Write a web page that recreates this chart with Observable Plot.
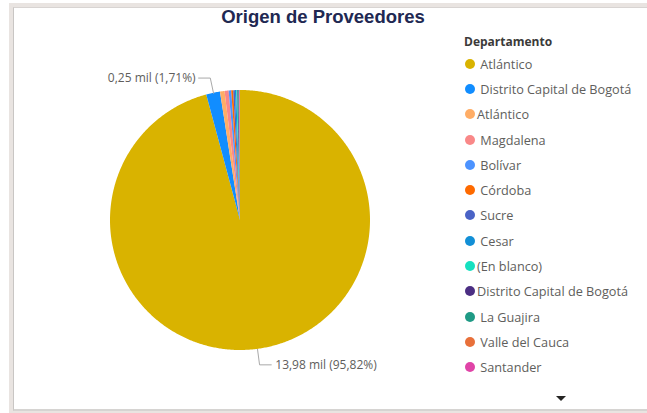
<!DOCTYPE html>
<html>
<head>
<meta charset="utf-8">
<script src="https://cdn.jsdelivr.net/npm/d3@7"></script>
<script src="https://cdn.jsdelivr.net/npm/@observablehq/plot@0.6"></script>
<style>
  html, body { margin: 0; padding: 0; background: #ffffff; overflow: hidden; }
  #wrap { position: relative; width: 647px; height: 413px; overflow: hidden; font-family: "Open Sans", "Noto Sans", sans-serif; }
  #outer { position: absolute; left: 9px; top: 3px; width: 660px; height: 410px; background: #e9e4e1; }
  #panel { position: absolute; left: 13px; top: 7px; width: 660px; height: 404px; background: #ffffff; border-left: 1px solid #c9c6c4; border-top: 1px solid #d8d4d2; border-bottom: 2px solid #d6d4d2; box-sizing: border-box; }
  #title { position: absolute; left: 13px; width: 620px; top: 6px; text-align: center; font-family: "Liberation Sans", Arial, sans-serif; font-weight: bold; font-size: 18.5px; color: #212852; }
  #chart { position: absolute; left: 0; top: 0; }
  #legend { position: absolute; left: 464px; top: 33px; }
  #legend .lt { font-weight: bold; font-size: 12px; color: #3b3a39; height: 18px; line-height: 18px; }
  #legend .it { display: flex; align-items: center; height: 25.3px; font-size: 12.7px; color: #605e5c; white-space: pre; }
  #legend .mk { width: 10px; height: 10px; border-radius: 50%; margin-left: 1px; margin-right: 2px; flex: none; }
  #arrow { position: absolute; left: 556px; top: 396px; width: 0; height: 0; border-left: 5px solid transparent; border-right: 5px solid transparent; border-top: 5px solid #252423; }
</style>
</head>
<body>
<div id="wrap">
  <div id="outer"></div>
  <div id="panel"></div>
  <div id="title">Origen de Proveedores</div>
  <div id="chart"></div>
  <div id="legend"></div>
  <div id="arrow"></div>
</div>
<script>
const legendTitle = "Departamento";
const categories = [" Atlántico", " Distrito Capital de Bogotá", "Atlántico", " Magdalena", " Bolívar", " Córdoba", " Sucre", " Cesar", "(En blanco)", "Distrito Capital de Bogotá", " La Guajira", " Valle del Cauca", " Santander"];
const values = [13980, 250, 83, 73, 47, 36, 29, 25, 20, 17, 12, 9, 9];
const colors = ["#d9b300", "#118dff", "#ffad66", "#f98888", "#4c93ff", "#fe6a00", "#4a63c6", "#128fd6", "#16e0c0", "#4b2e83", "#1f9a85", "#e8703a", "#e044a7"];

const total = d3.sum(values);
let cum = 0;
const slices = categories.map((c, i) => {
  const a0 = cum / total * 2 * Math.PI;
  cum += values[i];
  const a1 = cum / total * 2 * Math.PI;
  return {c, v: values[i], a0, a1, share: values[i] / total};
});

const arcPts = [];
for (const s of slices) {
  const n = Math.max(2, Math.ceil((s.a1 - s.a0) / (Math.PI / 360)) + 1);
  for (let k = 0; k < n; k++) {
    const a = s.a0 + (s.a1 - s.a0) * k / (n - 1);
    arcPts.push({c: s.c, x: Math.sin(a), y: Math.cos(a)});
  }
}

const fmt = v => (v / 1000).toFixed(2).replace(".", ",") + " mil (" + (v / total * 100).toFixed(2).replace(".", ",") + "%)";
const labeled = slices.filter(s => s.share > 0.01);
const leader = [];
const labels = [];
for (const s of labeled) {
  const m = (s.a0 + s.a1) / 2;
  const side = Math.sin(m) >= 0 ? 1 : -1;
  const ex = 1.12 * Math.sin(m), ey = 1.12 * Math.cos(m);
  leader.push({c: s.c, x: Math.sin(m), y: Math.cos(m)});
  leader.push({c: s.c, x: ex, y: ey});
  leader.push({c: s.c, x: ex + side * 0.09, y: ey});
  labels.push({x: ex + side * 0.09, y: ey, side, text: fmt(s.v)});
}

const plot = Plot.plot({
  width: 440,
  height: 413,
  margin: 0,
  style: {background: "transparent", overflow: "visible"},
  x: {domain: [-1, 1], range: [110, 370], axis: null},
  y: {domain: [-1, 1], range: [350, 90], axis: null},
  color: {domain: categories, range: colors},
  marks: [
    Plot.area(arcPts, {x1: "x", y1: "y", x2: d => 0, y2: d => 0, z: "c", fill: "c"}),
    Plot.line(leader, {x: "x", y: "y", z: "c", stroke: "#a9a9a9", strokeWidth: 1}),
    Plot.text(labels.filter(d => d.side > 0), {x: "x", y: "y", text: "text", textAnchor: "start", dx: 4, fill: "#605e5c", fontSize: 12, fontFamily: "Open Sans, Noto Sans, sans-serif"}),
    Plot.text(labels.filter(d => d.side < 0), {x: "x", y: "y", text: "text", textAnchor: "end", dx: -3, fill: "#605e5c", fontSize: 12, fontFamily: "Open Sans, Noto Sans, sans-serif"})
  ]
});
document.getElementById("chart").appendChild(plot);

const lg = document.getElementById("legend");
const t = document.createElement("div");
t.className = "lt";
t.textContent = legendTitle;
lg.appendChild(t);
categories.forEach((c, i) => {
  const it = document.createElement("div");
  it.className = "it";
  const mk = document.createElement("span");
  mk.className = "mk";
  mk.style.background = colors[i];
  const tx = document.createElement("span");
  tx.textContent = c;
  it.appendChild(mk);
  it.appendChild(tx);
  lg.appendChild(it);
});
</script>
</body>
</html>
